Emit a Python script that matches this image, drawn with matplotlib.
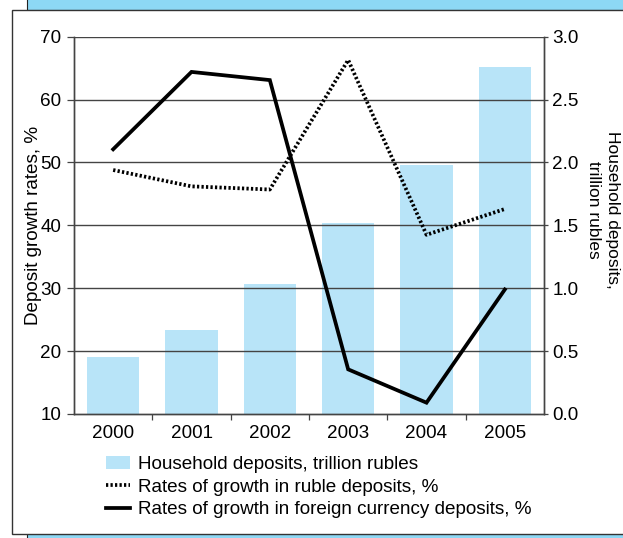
import numpy as np
import matplotlib
matplotlib.use("Agg")
import matplotlib.pyplot as plt
from matplotlib.patches import Rectangle, Patch
from matplotlib.lines import Line2D

plt.rcParams['font.family'] = ['Liberation Sans', 'DejaVu Sans']
plt.rcParams['font.size'] = 13.6

# Data
years = ['2000', '2001', '2002', '2003', '2004', '2005']
household_deposits = [0.45, 0.67, 1.03, 1.52, 1.98, 2.76]      # trillion rubles
ruble_growth = [48.8, 46.2, 45.7, 66.3, 38.5, 42.6]            # %
foreign_growth = [52.1, 64.4, 63.1, 17.1, 11.8, 29.8]          # %

W, H = 623, 538
fig = plt.figure(figsize=(W / 100, H / 100), dpi=100)

def px(x0, y0, x1, y1):
    # pixel box (top-left origin) -> figure fraction rect
    return [x0 / W, 1 - y1 / H, (x1 - x0) / W, (y1 - y0) / H]

# page frame: blue bands and white box
band_col = '#8dd8f5'
for r in (px(27, -2, 640, 10), px(27, 533, 640, 545)):
    fig.patches.append(Rectangle((r[0], r[1]), r[2], r[3], transform=fig.transFigure,
                                 facecolor=band_col, edgecolor='#222222', lw=0.8, zorder=0))
r = px(12, 9.5, 640, 533.5)
fig.patches.append(Rectangle((r[0], r[1]), r[2], r[3], transform=fig.transFigure,
                             facecolor='white', edgecolor='#333333', lw=1.0, zorder=1))

ax = fig.add_axes(px(74, 36.7, 544, 414))
ax2 = ax.twinx()
ax.set_zorder(3)
ax.patch.set_visible(False)
ax2.set_zorder(2)

x = np.arange(len(years))

# bars on the right axis
ax2.bar(x, household_deposits, width=0.67, color='#b8e4f8', zorder=1)
ax2.set_ylim(0, 3.0)
ax2.set_yticks(np.arange(0, 3.01, 0.5))
ax2.set_yticklabels([f'{v:.1f}' for v in np.arange(0, 3.01, 0.5)])

# gridlines and lines on the left axis
ax.set_ylim(10, 70)
ax.set_yticks(np.arange(10, 71, 10))
ax.set_xlim(-0.5, 5.5)
for yv in np.arange(20, 71, 10):
    ax.axhline(yv, color='#444444', lw=1.0, zorder=1)
ax.plot(x, ruble_growth, color='black', lw=2.7, dashes=(0.6, 0.6), zorder=4,
        solid_capstyle='butt', dash_capstyle='butt')
ax.plot(x, foreign_growth, color='black', lw=2.7, zorder=5, solid_joinstyle='miter')

ax.set_xticks(np.arange(0.5, 5, 1))
ax.set_xticklabels([])
ax.set_xticks(x, minor=True)
ax.set_xticklabels(years, minor=True)
ax.tick_params(axis='x', which='major', length=4, width=0.9, color='#444444')
ax.tick_params(axis='x', which='minor', length=0, pad=8)
ax.tick_params(axis='y', length=5, width=0.9, color='#444444', pad=4)
ax2.tick_params(axis='y', length=3, width=0.9, color='#444444', pad=3)

for a in (ax, ax2):
    a.spines['top'].set_visible(False)
    for s in ('left', 'right', 'bottom'):
        a.spines[s].set_color('#444444')
        a.spines[s].set_linewidth(1.0)

ax.set_ylabel('Deposit growth rates, %', labelpad=-1.5)
fig.text(603 / W, 1 - 210 / H, 'Household deposits,\ntrillion rubles', rotation=270,
         ha='center', va='center', multialignment='center', fontsize=12.5,
         linespacing=1.3)

handles = [
    Patch(facecolor='#b8e4f8', edgecolor='none'),
    Line2D([], [], color='black', lw=2.7, dashes=(0.6, 0.6)),
    Line2D([], [], color='black', lw=2.7),
]
labels = ['Household deposits, trillion rubles',
          'Rates of growth in ruble deposits, %',
          'Rates of growth in foreign currency deposits, %']
fig.legend(handles, labels, loc='upper left', bbox_to_anchor=(106 / W, 1 - 456 / H),
           frameon=False, handlelength=1.25, handleheight=0.7, handletextpad=0.42,
           labelspacing=0.28, borderpad=0, borderaxespad=0)

fig.savefig('out.png', dpi=100)
